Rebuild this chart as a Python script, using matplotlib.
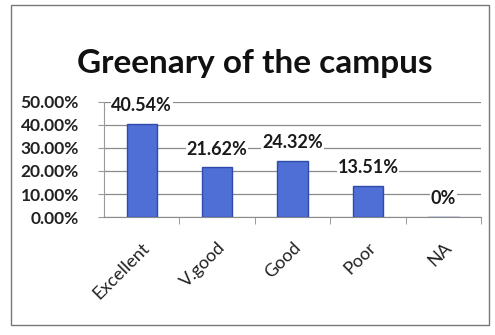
import matplotlib
matplotlib.use("Agg")
import matplotlib.pyplot as plt
import matplotlib.transforms as mtransforms
from matplotlib.patches import Rectangle
from matplotlib.ticker import FuncFormatter, MultipleLocator

categories = ["Excellent", "V.good", "Good", "Poor", "NA"]
values = [40.54, 21.62, 24.32, 13.51, 0.0]
labels = ["40.54%", "21.62%", "24.32%", "13.51%", "0%"]
title = "Greenary of the campus"

plt.rcParams['font.family'] = ['Lato', 'DejaVu Sans']

fig = plt.figure(figsize=(4.95, 3.35), dpi=100)
fig.patch.set_facecolor("white")
ax = fig.add_axes([0.210, 0.352, 0.762, 0.344])

x = list(range(len(categories)))
ax.bar(x, values, width=0.4, color="#4f6fd6", edgecolor="#2f4aa8", linewidth=1.0, zorder=3)

ax.set_xlim(-0.5, len(categories) - 0.5)
ax.set_ylim(0, 50)
ax.yaxis.set_major_locator(MultipleLocator(10))
ax.yaxis.set_major_formatter(FuncFormatter(lambda v, p: f"{v:.2f}%"))
ax.grid(axis="y", color="#8a8a8a", linewidth=0.9, zorder=0)
ax.set_axisbelow(True)

for s in ["top", "right"]:
    ax.spines[s].set_visible(False)
ax.spines["left"].set_color("#9a9a9a")
ax.spines["bottom"].set_color("#8a8a8a")

ax.set_xticks(x)
ax.set_xticklabels(categories, rotation=45, ha="right", rotation_mode="anchor",
                   fontsize=13, color="#222222")
shift = mtransforms.ScaledTranslation(4 / 100, -3 / 100, fig.dpi_scale_trans)
for t in ax.get_xticklabels():
    t.set_transform(t.get_transform() + shift)
ax.set_xticks([i + 0.5 for i in range(len(categories))], minor=True)
ax.tick_params(axis="x", which="major", length=0, pad=16)
ax.tick_params(axis="x", which="minor", length=5, color="#8a8a8a", direction="out")
ax.tick_params(axis="y", length=4, color="#9a9a9a", labelsize=12.5, labelcolor="#222222", pad=14)
for t in ax.get_yticklabels():
    t.set_fontweight("bold")

for xi, v, lab in zip(x, values, labels):
    ax.annotate(lab, (xi, v), xytext=(0, 7), textcoords="offset points",
                ha="center", va="bottom", fontsize=13, fontweight="bold", color="#1a1a1a",
                bbox=dict(facecolor="white", edgecolor="none", pad=0.5))

fig.text(0.515, 0.81, title, ha="center", va="center", fontsize=24,
         fontweight="bold", color="#111111")

fig.patches.append(Rectangle((0.022, 0.03), 0.965, 0.955, transform=fig.transFigure,
                             fill=False, edgecolor="#777777", linewidth=1.0))

fig.savefig("out.png", dpi=100, facecolor="white")
